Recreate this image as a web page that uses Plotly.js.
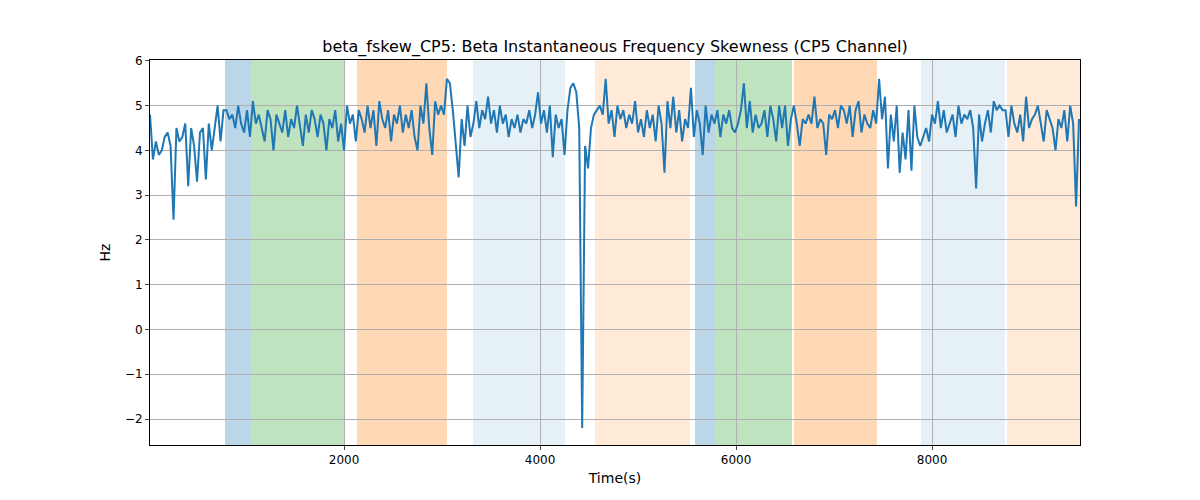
<!DOCTYPE html>
<html><head><meta charset="utf-8">
<script src="https://cdn.plot.ly/plotly-3.0.1.min.js"></script>
<style>body{margin:0}</style></head>
<body><div id="chart" style="width:1200px;height:500px"></div>
<script>
const xStart = 20, xStep = 30;
const values = [
4.8,3.8,4.2,3.9,4.0,4.3,4.4,4.1,2.45,4.5,4.2,4.3,4.6,3.2,4.5,4.1,3.3,4.4,4.5,3.35,4.6,4.0,4.5,5.0,4.2,4.9,
4.9,4.7,4.8,4.5,5.0,4.6,4.4,4.9,4.3,5.1,4.6,4.8,4.5,4.2,4.9,4.7,4.0,4.8,4.6,4.4,4.9,4.3,4.7,4.5,5.0,4.6,4.1,4.8,4.4,4.9,4.7,4.3,4.8,4.6,4.0,4.7,4.5,4.9,4.2,4.6,4.0,
5.0,4.6,4.8,4.2,4.9,4.7,4.4,5.0,4.5,4.9,4.1,5.1,4.7,4.5,4.9,4.2,4.8,4.6,5.0,4.4,4.8,4.5,4.9,4.3,4.0,5.0,4.6,5.5,4.5,3.9,5.1,4.8,5.0,4.8,5.6,
5.5,4.9,4.2,3.4,4.7,4.1,5.0,4.3,
4.6,5.1,4.5,4.9,4.7,5.2,4.6,4.9,4.4,5.0,4.6,4.8,4.3,4.7,4.5,4.8,4.4,4.7,4.6,4.9,4.5,4.8,5.3,4.6,4.9,4.4,5.0,3.85,4.8,4.5,4.7,3.9,
4.9,5.4,5.5,5.3,4.5,-2.2,4.1,3.6,4.5,4.8,
4.9,5.0,4.8,5.6,4.6,4.9,4.3,5.0,4.7,4.9,4.5,4.8,4.6,5.1,4.4,4.7,4.3,4.9,4.5,4.8,4.2,5.0,4.6,3.5,5.1,4.5,5.2,4.4,4.9,4.2,4.7,4.5,
5.4,4.3,4.9,4.6,3.9,5.0,4.4,4.8,4.6,4.9,4.3,4.8,4.6,4.9,4.5,4.4,4.6,4.9,5.5,4.5,5.1,4.4,4.8,4.5,4.6,4.9,4.3,5.0,4.7,4.2,5.0,4.5,5.0,4.1,4.7,
5.0,4.6,4.1,4.7,4.6,4.8,4.6,5.2,4.5,4.7,4.6,3.9,4.8,4.7,4.9,4.5,5.0,4.9,4.6,5.0,4.3,4.9,5.1,4.4,4.8,4.6,4.5,4.9,4.6,
5.6,4.7,5.2,3.6,4.8,4.2,5.0,3.5,4.4,3.8,4.9,3.55,5.0,4.3,4.1,
4.3,4.5,4.2,4.8,4.6,5.1,4.5,4.9,4.4,4.6,4.8,4.3,5.0,4.6,4.8,4.7,4.9,4.5,3.15,4.8,4.2,4.6,4.9,4.4,5.1,4.9,5.0,4.9,
4.9,4.3,5.0,4.6,4.4,4.8,4.2,5.2,4.5,4.7,4.8,5.0,4.6,4.2,4.9,4.7,4.5,4.0,4.7,4.5,4.9,4.2,5.0,4.6,2.75,4.7
];
const bandStarts = [785,1050,2132,3316,4560,5581,5785,6592,7887,8765];
const bandEnds   = [1050,2000,3050,4255,5530,5785,6571,7438,8744,9510];
const bandColors = ['rgba(31,119,180,0.3)','rgba(44,160,44,0.3)','rgba(255,127,14,0.3)','rgba(31,119,180,0.11)','rgba(255,127,14,0.16)',
 'rgba(31,119,180,0.3)','rgba(44,160,44,0.3)','rgba(255,127,14,0.3)','rgba(31,119,180,0.11)','rgba(255,127,14,0.16)'];
const xs = values.map((v,i)=>xStart+i*xStep);
const shapes = bandStarts.map((s,i)=>({type:'rect',xref:'x',yref:'paper',x0:s,x1:bandEnds[i],y0:0,y1:1,fillcolor:bandColors[i],line:{width:0},layer:'below'}));
Plotly.newPlot('chart',[{x:xs,y:values,type:'scatter',mode:'lines',line:{color:'#1f77b4',width:2}}],{
  width:1200,height:500,margin:{l:150,r:120,t:60,b:55},
  font:{family:'DejaVu Sans',size:12,color:'#000'},
  title:{text:'beta_fskew_CP5: Beta Instantaneous Frequency Skewness (CP5 Channel)',font:{size:16},x:0.5,xref:'paper',yref:'container',y:0.908,yanchor:'middle'},
  xaxis:{range:[20,9510],tickvals:[2000,4000,6000,8000],showgrid:true,gridcolor:'#b0b0b0',zeroline:false,showline:true,linecolor:'#000',mirror:true,ticks:'outside',ticklen:4,title:{text:'Time(s)',standoff:6}},
  yaxis:{range:[-2.58,6.02],dtick:1,showgrid:true,gridcolor:'#b0b0b0',zeroline:false,showline:true,linecolor:'#000',mirror:true,ticks:'outside',ticklen:4,title:{text:'Hz',standoff:10}},
  shapes:shapes,showlegend:false,plot_bgcolor:'#fff'
},{displayModeBar:false});
</script></body></html>
